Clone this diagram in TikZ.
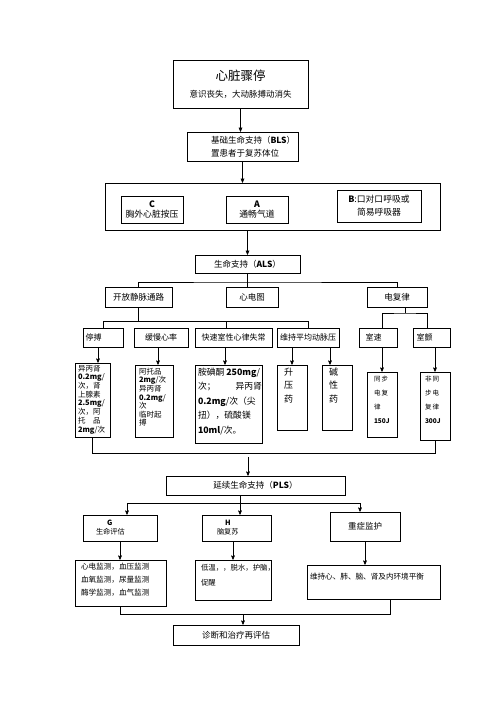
\documentclass[tikz,border=0pt]{standalone}
\usepackage{fontspec}
\setmainfont{Noto Sans CJK SC}
\usetikzlibrary{arrows}

\begin{document}
\begin{tikzpicture}[x=1pt,y=-1pt,>=stealth',line width=0.6pt]
\tikzstyle{box}=[draw,rectangle,inner sep=1pt,align=center,font=\fontsize{8.5}{11}\selectfont]
\tikzstyle{tbox}=[draw,rectangle,inner sep=0pt]
\useasboundingbox (0,0) rectangle (496,702);

% top of the chart
\node[box,minimum width=135pt,minimum height=48pt] (arrest) at (240.5,84)
  {{\fontsize{12.5}{14}\selectfont 心脏骤停}\\[6pt]意识丧失，大动脉搏动消失};
\node[tbox] (bls) at (242.5,146.5)
  {\parbox[c][29pt][c]{111pt}{\raggedright\leftskip=24pt\fontsize{8.5}{13}\selectfont 基础生命支持（\textbf{BLS}）\\置患者于复苏体位}};
\node[tbox,minimum width=335pt,minimum height=47pt] (basic) at (272.5,206.5) {};
\node[box,minimum width=62pt,minimum height=27pt,font=\fontsize{8.8}{10.5}\selectfont] (cpr) at (152,209.5) {\textbf{C}\\胸外心脏按压};
\node[box,minimum width=62pt,minimum height=27pt,font=\fontsize{8.8}{10.5}\selectfont] (airway) at (257,209.5) {\textbf{A}\\通畅气道};
\node[box,minimum width=84pt,minimum height=32pt,font=\fontsize{8.8}{13}\selectfont] (breath) at (379,206) {\textbf{B}:口对口呼吸或\\简易呼吸器};

% advanced support
\node[box,minimum width=105pt,minimum height=18pt] (als) at (247.5,264) {生命支持（\textbf{ALS}）};
\node[box,minimum width=67pt,minimum height=20pt] (iv) at (138.5,297) {开放静脉通路};
\node[box,minimum width=52pt,minimum height=20pt] (ecg) at (252,297) {心电图};
\node[box,minimum width=60pt,minimum height=20pt] (defib) at (397,297) {电复律};

\tikzstyle{row}=[box,minimum height=19pt,font=\fontsize{8}{10}\selectfont]
\node[row,align=left,text width=35pt,inner xsep=2.5pt] (stop) at (103,337.5) {停搏};
\node[row,minimum width=54pt] (brady) at (161,337.5) {缓慢心率};
\node[row,minimum width=77pt] (tachy) at (233.5,337.5) {快速室性心律失常};
\node[row,minimum width=62pt] (map) at (308,337.5) {维持平均动脉压};
\node[row,align=left,text width=31pt,inner xsep=3.5pt] (vt) at (378,337.5) {\hspace*{3pt}室速};
\node[row,align=left,text width=30pt,inner xsep=3.5pt] (vf) at (431.5,337.5) {室颤};

% drugs
\node[tbox] (drugA) at (92.5,400) {\parbox[c][74pt][t]{35pt}{\raggedright\leftskip=3pt\fontsize{7.5}{8.7}\selectfont\vspace*{2pt}%
  异丙肾\\\textbf{0.2mg}/\\次，肾\\上腺素\\\textbf{2.5mg}/\\次，阿\\托　品\\\textbf{2mg}/次}};
\node[tbox] (drugB) at (154,401) {\parbox[c][72pt][t]{38pt}{\raggedright\leftskip=4pt\fontsize{7.5}{8.6}\selectfont\vspace*{3pt}%
  阿托品\\\textbf{2mg}/次\\异丙肾\\\textbf{0.2mg}/\\次\\临时起\\搏}};
\node[tbox] (drugC) at (228.5,404) {\parbox[c][78pt][t]{67pt}{\raggedright\leftskip=3pt\fontsize{8.8}{14.5}\selectfont\vspace*{3pt}%
  胺碘酮 \textbf{250mg}/\\次；\hfill 异丙肾\\\textbf{0.2mg}/次（尖\\扭），硫酸镁\\\textbf{10ml}/次。}};
\node[tbox] (press) at (292,397.5) {\parbox[c][65pt][t]{30pt}{\raggedright\leftskip=7pt\fontsize{9}{13.3}\selectfont\vspace*{3pt}%
  升\\压\\药}};
\node[tbox] (alk) at (337,397.5) {\parbox[c][65pt][t]{30pt}{\raggedright\leftskip=7pt\fontsize{9}{13.3}\selectfont\vspace*{3pt}%
  碱\\性\\药}};
\node[tbox] (sync) at (382,404.5) {\parbox[c][65pt][t]{30pt}{\raggedright\leftskip=7pt\fontsize{6.5}{14}\selectfont\vspace*{4pt}%
  同\,步\\电\,复\\律\\\textbf{150J}}};
\node[tbox] (async) at (435,406) {\parbox[c][68pt][t]{30pt}{\raggedright\leftskip=5pt\fontsize{6.5}{14}\selectfont\vspace*{4pt}%
  非\,同\\步\,电\\复\,律\\\textbf{300J}}};

% prolonged support
\node[box,minimum width=179pt,minimum height=19pt] (pls) at (255.5,485.5) {延续生命支持（\textbf{PLS}）};
\node[tbox] (gbox) at (120,528) {\parbox[c][26pt][c]{74pt}{\raggedright\leftskip=13pt\fontsize{7.2}{9}\selectfont
  \hspace*{11pt}\textbf{G}\\生命评估}};
\node[tbox] (hbox) at (236.5,528) {\parbox[c][26pt][c]{69pt}{\raggedright\leftskip=15pt\fontsize{7.2}{9}\selectfont
  \hspace*{8pt}\textbf{H}\\脑复苏}};
\node[box,minimum width=70pt,minimum height=29pt] (icu) at (365,526.5) {重症监护};
\node[tbox] (mon) at (120.5,583) {\parbox[c][46pt][t]{91pt}{\raggedright\leftskip=6pt\fontsize{7.6}{13}\selectfont\vspace*{3pt}%
  心电监测，血压监测\\血氧监测，尿量监测\\酶学监测，血气监测}};
\node[tbox] (brain) at (233,580) {\parbox[c][40pt][t]{76pt}{\raggedright\leftskip=6pt\fontsize{7.4}{15}\selectfont\vspace*{4pt}%
  低温，，脱水，护脑，\\促醒}};
\node[tbox] (organ) at (373.5,582) {\parbox[c][34pt][t]{133pt}{\raggedright\leftskip=3pt\fontsize{7.6}{10}\selectfont\vspace*{8pt}%
  维持心、肺、脑、肾及内环境平衡}};
\node[box,minimum width=126pt,minimum height=20pt] (final) at (236,635) {诊断和治疗再评估};

% connectors
\coordinate (alsfork) at (247.5,282);
\coordinate (ivfork) at (138.5,321);
\coordinate (dffork) at (405,313);
\coordinate (drugfork) at (248,453);
\coordinate (plsin) at (248,457);
\coordinate (plsfork) at (240,503);
\coordinate (finfork) at (243,614);

\draw[->] (arrest.south) -- (arrest.south |- bls.north);
\draw[->] (bls.south) -- (bls.south |- basic.north);
\draw[->] (als.north |- basic.south) -- (als.north);

\draw (als.south) -- (als.south |- ecg.north);
\draw (iv.north) |- (alsfork) -| (defib.north);

\draw (iv.south) -- (ivfork);
\draw (stop.north) |- (map.north |- ivfork) -- (map.north);
\draw ([xshift=-7.5pt]tachy.north) -- ([xshift=-7.5pt]tachy.north |- ivfork);
\draw ([xshift=8pt]defib.south) -- (dffork);
\draw ([xshift=4pt]vt.north) |- (dffork) -| ([xshift=-4.5pt]vf.north);

\draw[->] ([xshift=-5pt]stop.south) -- ([xshift=-5pt]stop.south |- drugA.north);
\draw[->] ([xshift=-3pt]brady.south) -- ([xshift=-3pt]brady.south |- drugB.north);
\draw[->] ([xshift=-8.5pt]tachy.south) -- ([xshift=-8.5pt]tachy.south |- drugC.north);
\draw[->] (press.north |- map.south) -- (press.north);
\draw[->] ([xshift=-7pt]alk.north |- map.south) -- ([xshift=-7pt]alk.north);
\draw[->] (sync.north |- vt.south) -- (sync.north);
\draw[->] (async.north |- vf.south) -- (async.north);

\draw (drugA.south) |- (async.south |- drugfork) -- (async.south);
\draw[->] (plsin) -- (plsin |- pls.north);

\draw (pls.south -| plsfork) -- (plsfork);
\draw ([xshift=7pt]gbox.north |- plsfork) -- ([xshift=-5pt]icu.north |- plsfork);
\draw[->] ([xshift=7pt]gbox.north |- plsfork) -- ([xshift=7pt]gbox.north);
\draw[->] ([xshift=3.5pt]hbox.north |- plsfork) -- ([xshift=3.5pt]hbox.north);
\draw[->] ([xshift=-5pt]icu.north |- plsfork) -- ([xshift=-5pt]icu.north);

\draw[->] (gbox.south) -- (gbox.south |- mon.north);
\draw[->] (brain.north |- hbox.south) -- (brain.north);
\draw[->] (icu.south) -- (icu.south |- organ.north);

\draw (mon.south) |- ([xshift=16.5pt]organ.south |- finfork) -- ([xshift=16.5pt]organ.south);
\draw[->] (finfork) -- (finfork |- final.north);
\end{tikzpicture}
\end{document}
